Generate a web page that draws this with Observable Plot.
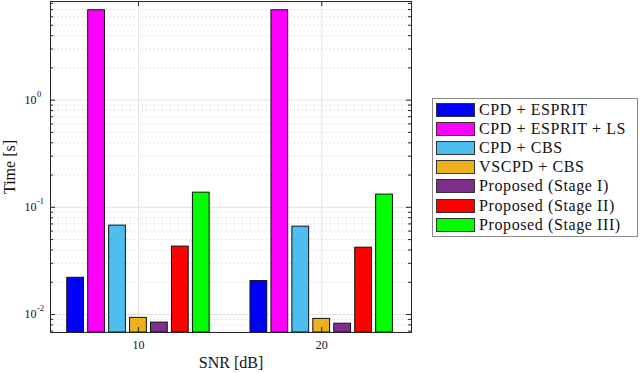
<!DOCTYPE html>
<html>
<head>
<meta charset="utf-8">
<script src="https://cdn.jsdelivr.net/npm/d3@7"></script>
<script src="https://cdn.jsdelivr.net/npm/@observablehq/plot@0.6"></script>
<style>
  html, body { margin: 0; padding: 0; background: #fff; }
  #wrap { position: relative; width: 640px; height: 373px; font-family: "Liberation Serif", serif; }
  #legend { position: absolute; left: 432px; top: 98px; width: 206px; height: 139px; border: 1px solid #8a8a8a; background: #fff; box-sizing: border-box; padding-top: 1px; }
  .row { height: 19.2px; display: flex; align-items: center; font-size: 16px; letter-spacing: 0.6px; color: #111; white-space: nowrap; }
  .sw { width: 39px; height: 14px; box-sizing: border-box; border: 1px solid #333; margin-left: 3px; margin-right: 4px; flex: none; }
</style>
</head>
<body>
<div id="wrap">
  <div id="chart"></div>
  <div id="legend"></div>
</div>
<script>
// ---- data ----
const snr = [10, 20];
const methods = ["CPD + ESPRIT", "CPD + ESPRIT + LS", "CPD + CBS", "VSCPD + CBS", "Proposed (Stage I)", "Proposed (Stage II)", "Proposed (Stage III)"];
const colors = ["#0000ff", "#ff00ff", "#4dbeee", "#edb120", "#7e2f8e", "#ff0000", "#00ff00"];
const timeSnr10 = [0.022, 6.9, 0.0675, 0.0093, 0.0084, 0.043, 0.137];
const timeSnr20 = [0.0205, 6.9, 0.066, 0.0091, 0.0082, 0.042, 0.1315];
const yTicks = [0.01, 0.1, 1];
const yDomain = [0.00679, 8.33];
const xDomain = [5.2, 24.9];

// ---- layout (MATLAB grouped-bar geometry) ----
const W = 640, H = 373;
const mL = 50, mR = 229, mT = 1, mB = 41;
const plotW = W - mL - mR, plotH = H - mT - mB;
const n = methods.length;
const groupWidth = 0.8 * (snr[1] - snr[0]);
const step = groupWidth / n;
const barW = step * 0.8;

const series = [timeSnr10, timeSnr20];
const bars = [];
snr.forEach((s, gi) => {
  methods.forEach((m, mi) => {
    const c = s + (mi - (n - 1) / 2) * step;
    bars.push({snr: s, method: m, value: series[gi][mi], x1: c - barW / 2, x2: c + barW / 2});
  });
});

// minor ticks on log axis
const minor = [];
for (let e = -3; e <= 0; e++) {
  for (let k = 2; k <= 9; k++) {
    const v = k * Math.pow(10, e);
    if (v > yDomain[0] && v < yDomain[1]) minor.push(v);
  }
}

const axisColor = "#262626";
const chart = Plot.plot({
  width: W, height: H,
  marginLeft: mL, marginRight: mR, marginTop: mT, marginBottom: mB,
  style: {fontFamily: "Liberation Serif, serif", fontSize: "12px", color: "#111", background: "white"},
  x: {type: "linear", domain: xDomain, ticks: snr, tickSize: 0, tickPadding: 8, tickFormat: d => String(d), label: null},
  y: {type: "log", domain: yDomain, axis: null},
  color: {domain: methods, range: colors},
  marks: [
    // grids
    Plot.ruleY(minor, {y: d => d, stroke: "#c8c8c8", strokeDasharray: "1,3", strokeWidth: 1}),
    Plot.ruleY(yTicks, {y: d => d, stroke: "#e2e2e2", strokeWidth: 1}),
    Plot.ruleX(snr, {x: d => d, stroke: "#e2e2e2", strokeWidth: 1}),
    // bars
    Plot.rectY(bars, {x1: "x1", x2: "x2", y1: yDomain[0], y2: "value", fill: "method", stroke: "#111", strokeWidth: 1}),
    // inward ticks
    Plot.ruleY(yTicks, {y: d => d, stroke: axisColor, insetRight: plotW - 5}),
    Plot.ruleY(yTicks, {y: d => d, stroke: axisColor, insetLeft: plotW - 5}),
    Plot.ruleY(minor, {y: d => d, stroke: axisColor, insetRight: plotW - 3}),
    Plot.ruleY(minor, {y: d => d, stroke: axisColor, insetLeft: plotW - 3}),
    Plot.ruleX(snr, {x: d => d, stroke: axisColor, insetTop: plotH - 5}),
    Plot.ruleX(snr, {x: d => d, stroke: axisColor, insetBottom: plotH - 5}),
    Plot.frame({stroke: axisColor, strokeWidth: 1}),
    // y tick labels 10^k
    Plot.text(yTicks, {y: d => d, text: () => "10", frameAnchor: "left", textAnchor: "end", dx: -14, fontSize: 12}),
    Plot.text(yTicks, {y: d => d, text: d => String(Math.round(Math.log10(d))), frameAnchor: "left", textAnchor: "start", dx: -13.5, dy: -6, fontSize: 8.5}),
    // axis labels
    Plot.text(["Time [s]"], {frameAnchor: "left", textAnchor: "middle", lineAnchor: "middle", rotate: -90, dx: -41, fontSize: 16}),
    Plot.text(["SNR [dB]"], {frameAnchor: "bottom", textAnchor: "middle", lineAnchor: "middle", dy: 30, fontSize: 16})
  ]
});
document.getElementById("chart").appendChild(chart);

// legend
const legend = document.getElementById("legend");
methods.forEach((m, i) => {
  const row = document.createElement("div");
  row.className = "row";
  const sw = document.createElement("div");
  sw.className = "sw";
  sw.style.background = colors[i];
  const t = document.createElement("span");
  t.textContent = m;
  row.appendChild(sw);
  row.appendChild(t);
  legend.appendChild(row);
});
</script>
</body>
</html>
